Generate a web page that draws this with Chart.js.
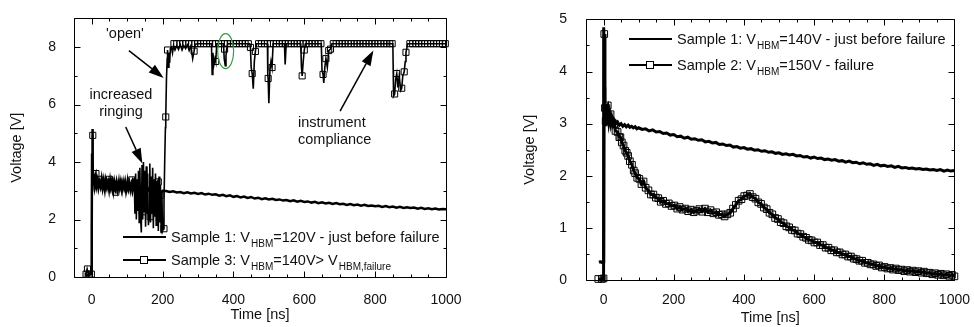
<!DOCTYPE html>
<html lang="en">
<head>
<meta charset="UTF-8">
<title>HBM voltage waveforms</title>
<style>
  body { margin: 0; background: #fff; font-family: "Liberation Sans", Arial, sans-serif; color: #111; }
  .panel { position: absolute; top: 0; width: 487px; height: 327px; }
  #leftPanel { left: 0; }
  #rightPanel { left: 487px; }
  .note { position: absolute; font-size: 14.5px; line-height: 16.5px; white-space: nowrap; }
  .legend { position: absolute; font-size: 14.5px; white-space: nowrap; }
  .legend .row { position: absolute; left: 0; height: 20px; width: 330px; }
  .legend .line { position: absolute; left: 0; width: 43px; top: 9px; height: 2px; background: #000; }
  .legend .box { position: absolute; left: 17px; top: 6px; width: 6px; height: 6px; border: 1px solid #000; background: #fff; }
  .legend .txt { position: absolute; left: 48px; top: 2px; line-height: 16px; }
  .legend sub { font-size: 10px; vertical-align: -5px; line-height: 0; margin-left: 1px; }
</style>
</head>
<body>

<div class="panel" id="leftPanel"><canvas id="leftChart" width="487" height="327"></canvas></div>
<div class="panel" id="rightPanel"><canvas id="rightChart" width="487" height="327"></canvas></div>

<div class="note" style="left:75px; top:25px; width:100px; text-align:center;">'open'</div>
<div class="note" style="left:71px; top:86px; width:100px; text-align:center;">increased<br>ringing</div>
<div class="note" style="left:298px; top:114px;">instrument<br>compliance</div>

<div class="legend" style="left:123px; top:227px;">
  <div class="row" style="top:0;"><div class="line"></div><div class="txt">Sample 1: V<sub>HBM</sub>=120V - just before failure</div></div>
  <div class="row" style="top:23px;"><div class="line"></div><div class="box"></div><div class="txt">Sample 3: V<sub>HBM</sub>=140V&gt; V<sub>HBM,failure</sub></div></div>
</div>

<div class="legend" style="left:629px; top:29px;">
  <div class="row" style="top:0;"><div class="line"></div><div class="txt">Sample 1: V<sub>HBM</sub>=140V - just before failure</div></div>
  <div class="row" style="top:26px;"><div class="line"></div><div class="box"></div><div class="txt">Sample 2: V<sub>HBM</sub>=150V - failure</div></div>
</div>

<script src="https://cdn.jsdelivr.net/npm/chart.js"></script>
<script>
// ---- data: [time ns, voltage V] ----

const xTicks = [0, 200, 400, 600, 800, 1000];
const yTicksLeft = [0, 2, 4, 6, 8];
const yTicksRight = [0, 1, 2, 3, 4, 5];

// left panel
const s1Left = [
  [-20,0.05],[-12,0.06],[-6,0.08],[-2,0.1],[0,1.6],[1,4.3],[2,5.15],[3,4.0],[4,3.3],
  [6,3.45],[8,3.2],[10,3.4],[13,3.15],[16,3.35],[19,3.1],[22,3.3],[25,3.15],[28,3.4],[31,3.1],[34,3.3],
  [37,3.05],[40,3.35],[43,3.15],[46,3.3],[49,3.05],[52,3.35],[55,3.1],[58,3.25],[61,3.0],[64,3.3],[67,3.1],
  [70,3.3],[73,3.05],[76,3.25],[79,3.1],[82,3.3],[85,3.05],[88,3.25],[91,3.1],[94,3.3],[97,3.0],[100,3.2],
  [103,3.05],[106,3.25],[109,3.05],[112,3.2],[115,3.0],[118,3.2],[121,3.05],[124,3.15],[127,3.0],[130,3.15],
  [135,3.0],[140,3.12],[145,2.98],[150,3.08],[155,2.96],[160,3.06],[165,2.97],[170,3.04],[175,2.95],[180,3.03],
  [185,2.96],[190,3.02],[195,2.95],[200,3.0],
  [210,2.99],[220,2.96],[230,2.98],[240,2.94],[250,2.96],[260,2.92],[270,2.95],[280,2.91],[290,2.93],[300,2.89],
  [310,2.92],[320,2.87],[330,2.9],[340,2.86],[350,2.88],[360,2.83],[370,2.86],[380,2.81],[390,2.84],[400,2.79],
  [410,2.82],[420,2.77],[430,2.8],[440,2.75],[450,2.78],[460,2.73],[470,2.76],[480,2.71],[490,2.74],[500,2.7],
  [510,2.72],[520,2.68],[530,2.7],[540,2.66],[550,2.68],[560,2.64],[570,2.67],[580,2.62],[590,2.65],[600,2.61],
  [610,2.63],[620,2.59],[630,2.62],[640,2.57],[650,2.6],[660,2.56],[670,2.58],[680,2.54],[690,2.57],[700,2.53],
  [710,2.55],[720,2.51],[730,2.54],[740,2.5],[750,2.52],[760,2.48],[770,2.51],[780,2.47],[790,2.49],[800,2.46],
  [810,2.48],[820,2.44],[830,2.47],[840,2.43],[850,2.45],[860,2.41],[870,2.44],[880,2.4],[890,2.43],[900,2.4],
  [910,2.42],[920,2.38],[930,2.41],[940,2.37],[950,2.39],[960,2.36],[970,2.38],[980,2.35],[990,2.37],[1000,2.36]
];

const s3Trace = [
  [-20,0.1],[-16,0.12],[-13,0.28],[-10,0.12],[-7,0.1],[-4,0.15],[-1,0.1],[0,0.3],[1,3.0],[2,4.95],[3,4.9],
  [4,3.6],[6,3.2],[9,3.5],[12,3.63],[15,3.2],[18,3.45],[22,3.4],[25,3.15],[28,3.4],[31,3.2],[34,3.45],
  [37,3.15],[40,3.35],[43,3.1],[46,3.4],[50,3.4],[53,3.1],[56,3.35],[59,3.05],[62,3.3],[65,3.0],[68,2.95],
  [71,3.3],[74,3.1],[77,3.4],[80,3.1],[83,3.3],[86,3.0],[89,3.35],[92,3.1],[95,3.3],[98,3.05],[101,3.4],
  [104,3.1],[107,3.3],[110,3.0],[113,3.35],[115,3.4],[118,3.1],
  [120,3.45],[122,2.2],[124,3.6],[126,2.0],[128,3.4],[130,2.3],[132,3.7],[134,1.9],[136,3.8],[138,2.1],
  [140,1.55],[142,3.9],[144,2.0],[146,4.0],[148,2.27],[150,3.7],[152,1.75],[154,3.85],[156,2.2],[158,3.6],
  [160,1.8],[162,2.1],[164,3.95],[166,1.9],[168,3.5],[170,2.2],[172,3.8],[174,1.7],[176,3.4],[178,2.1],
  [180,3.6],[182,1.8],[184,3.3],[186,3.34],[188,1.6],[190,3.5],[192,1.9],[194,3.2],[196,1.55],[198,3.0],
  [200,1.6],[202,1.67],[204,2.6],[206,4.0],[208,5.2],[209,5.57],[211,6.9],[213,7.6],[214,7.9],[216,7.3],
  [218,7.8],[220,7.45],[222,7.95],[225,8.0],[228,7.8],[231,8.05],[235,7.9],[240,8.05],[245,7.92],[250,8.08],
  [255,7.9],[260,8.05],[265,7.95],[270,8.08],[275,7.88],[280,8.05],[285,7.6],[289,7.86],[292,8.1],[300,8.12],
  [338,8.12],[340,7.05],[342,7.8],[345,7.4],[348,7.6],[350,7.5],[353,8.12],
  [372,8.12],[374,7.6],[377,7.35],[379,7.7],[381,7.95],[384,8.12],
  [446,8.12],[448,7.99],[450,7.3],[453,7.08],[456,6.55],[459,7.5],[462,7.85],[465,8.12],
  [496,8.12],[497,7.0],[498,6.91],[500,6.05],[503,7.2],[506,7.5],[509,7.29],[512,8.12],
  [544,8.12],[546,7.4],[549,8.12],
  [590,8.12],[592,7.3],[594,7.0],[597,7.5],[600,7.9],[603,8.12],
  [648,8.12],[650,7.2],[653,7.05],[655,6.75],[658,7.3],[661,7.6],[665,7.3],[669,7.88],[674,7.93],[678,8.12],
  [850,8.12],[852,6.3],[855,6.37],[858,6.9],[861,7.08],[864,6.6],[868,7.0],[872,6.5],[875,6.57],[878,7.0],
  [882,7.14],[885,7.5],[887,7.82],[892,8.12],[1000,8.12]
];

const s3Marks = [
  [-16,0.1],[-12,0.28],[-7,0.1],[-1,0.1],[3,4.93],[12,3.6],[21,3.4],[50,3.4],[68,2.95],[113,3.38],
  [143,2.27],[148,2.45],[165,2.1],[188,3.31],[193,2.84],[204,1.68],[209,5.57],[214,7.9],[289,7.86],
  [350,7.5],[375,7.93],[448,7.99],[453,7.08],[462,7.85],[498,6.91],[509,7.29],[594,7.0],[600,7.9],
  [653,7.05],[661,7.6],[669,7.88],[674,7.93],[855,6.37],[861,7.08],[875,6.57],[882,7.14],[887,7.82]
];

// squares sitting on the compliance limit
const s3Compliance = [
  [232,8.12],[240,8.12],[249,8.12],[257,8.12],[265,8.12],[274,8.12],[282,8.12],[291,8.12],[299,8.12],[307,8.12],
  [316,8.12],[324,8.12],[333,8.12],[341,8.12],[349,8.12],[358,8.12],[366,8.12],[375,8.12],[383,8.12],[391,8.12],
  [400,8.12],[408,8.12],[417,8.12],[425,8.12],[433,8.12],[442,8.12],
  [471,8.12],[479,8.12],[488,8.12],[496,8.12],[504,8.12],[513,8.12],[521,8.12],[530,8.12],[538,8.12],[546,8.12],
  [555,8.12],[563,8.12],[572,8.12],[580,8.12],[588,8.12],[597,8.12],[605,8.12],[614,8.12],[622,8.12],[630,8.12],
  [639,8.12],[647,8.12],
  [682,8.12],[690,8.12],[699,8.12],[707,8.12],[715,8.12],[724,8.12],[732,8.12],[741,8.12],[749,8.12],[757,8.12],
  [766,8.12],[774,8.12],[783,8.12],[791,8.12],[799,8.12],[808,8.12],[816,8.12],[825,8.12],[833,8.12],[841,8.12],
  [848,8.12],
  [898,8.12],[906,8.12],[915,8.12],[923,8.12],[931,8.12],[940,8.12],[948,8.12],[957,8.12],[965,8.12],[973,8.12],
  [982,8.12],[990,8.12],[998,8.12]
];

// right panel
const s1Right = [
  [-13,0.34],[-9,0.35],[-5,0.34],[-1,0.35],[0,2.2],[1,4.85],[2,3.7],[3,3.0],[4,3.35],[6,2.95],[8,3.3],
  [10,3.0],[12,3.2],[15,3.02],[18,3.15],[21,3.0],[24,3.1],[27,3.0],[30,3.07],[35,3.0],[40,3.03],[45,2.97],
  [50,3.0],[55,2.95],[60,2.98],[65,2.94],[70,2.97],[75,2.93],[80,2.95],[85,2.92],[90,2.94],[95,2.9],[100,2.92],
  [110,2.89],[120,2.9],[130,2.86],[140,2.88],[150,2.84],[160,2.85],[170,2.81],[180,2.82],[190,2.78],[200,2.79],
  [210,2.75],[220,2.76],[230,2.72],[240,2.74],[250,2.7],[260,2.71],[270,2.68],[280,2.69],[290,2.65],[300,2.66],
  [310,2.63],[320,2.64],[330,2.6],[340,2.61],[350,2.58],[360,2.59],[370,2.55],[380,2.56],[390,2.53],[400,2.54],
  [410,2.51],[420,2.52],[430,2.49],[440,2.5],[450,2.47],[460,2.48],[470,2.45],[480,2.46],[490,2.43],[500,2.44],
  [510,2.41],[520,2.42],[530,2.4],[540,2.41],[550,2.38],[560,2.39],[570,2.36],[580,2.37],[590,2.34],[600,2.36],
  [610,2.33],[620,2.34],[630,2.31],[640,2.32],[650,2.3],[660,2.31],[670,2.28],[680,2.29],[690,2.26],[700,2.28],
  [710,2.25],[720,2.26],[730,2.23],[740,2.25],[750,2.22],[760,2.23],[770,2.2],[780,2.22],[790,2.19],[800,2.2],
  [810,2.18],[820,2.19],[830,2.16],[840,2.18],[850,2.15],[860,2.16],[870,2.14],[880,2.15],[890,2.13],[900,2.14],
  [910,2.12],[920,2.13],[930,2.11],[940,2.12],[950,2.1],[960,2.12],[970,2.09],[980,2.11],[990,2.09],[1000,2.1]
];

const s2Right = [
  [-15,0.02],[-5,0.02],[0,0.03],[2,4.72],[4,3.3],[6,3.05],[8,3.3],[12,3.35],[16,3.1],[20,3.18],[25,3.02],
  [30,3.0],[34,2.86],[40,2.84],[45,2.74],[48,2.74],[52,2.64],[57,2.58],[62,2.48],[66,2.44],[70,2.38],[75,2.28],
  [81,2.21],[86,2.1],[90,2.05],[96,1.96],[102,1.94],[108,1.84],[114,1.89],[120,1.77],[128,1.72],[135,1.64],
  [142,1.64],[149,1.58],[156,1.57],[163,1.5],[170,1.52],[178,1.46],[186,1.47],[194,1.42],[202,1.43],[210,1.37],
  [217,1.4],[225,1.35],[233,1.37],[241,1.32],[249,1.35],[257,1.3],[265,1.33],[273,1.36],[281,1.31],[289,1.37],
  [297,1.3],[305,1.34],[313,1.28],[321,1.3],[329,1.25],[337,1.26],[345,1.22],[353,1.26],[361,1.29],[369,1.37],
  [377,1.44],[385,1.52],[393,1.55],[401,1.61],[409,1.62],[417,1.65],[425,1.59],[433,1.56],[441,1.49],[449,1.46],
  [457,1.39],[465,1.36],[473,1.29],[481,1.26],[489,1.19],[497,1.17],[505,1.11],[513,1.09],[521,1.03],[529,1.01],
  [537,0.96],[545,0.95],[553,0.89],[561,0.88],[569,0.83],[577,0.81],[585,0.77],[593,0.76],[601,0.72],[609,0.72],
  [617,0.67],[625,0.67],[633,0.62],[641,0.62],[649,0.57],[657,0.57],[665,0.53],[673,0.53],[681,0.49],[689,0.49],
  [697,0.45],[705,0.45],[713,0.41],[721,0.4],[729,0.37],[737,0.37],[745,0.33],[753,0.33],[761,0.3],[769,0.3],
  [777,0.27],[785,0.28],[793,0.24],[801,0.25],[809,0.22],[817,0.23],[825,0.2],[833,0.22],[841,0.19],[849,0.2],
  [857,0.17],[865,0.19],[873,0.16],[881,0.18],[889,0.15],[897,0.17],[905,0.14],[913,0.16],[921,0.13],[929,0.14],
  [937,0.11],[945,0.13],[953,0.1],[961,0.12],[969,0.09],[977,0.11],[985,0.08],[993,0.1],[1000,0.07]
];

const FONT = "'Liberation Sans', Arial, sans-serif";
const toXY = arr => arr.map(p => ({ x: p[0], y: p[1] }));

// frame with inward ticks on all four sides, plus arrows / ellipse
const framePlugin = {
  id: 'frame',
  afterDatasetsDraw(chart, args, opts) {
    const { ctx, chartArea: a, scales: { x, y } } = chart;
    const L = Math.round(a.left) + 0.5, R = Math.round(a.right) + 0.5;
    const T = Math.round(a.top) + 0.5, B = Math.round(a.bottom) + 0.5;
    ctx.save();
    ctx.strokeStyle = '#000';
    ctx.lineWidth = 1;
    ctx.beginPath();
    ctx.rect(L, T, R - L, B - T);
    for (let v = x.min; v <= x.max; v += opts.xMinor) {
      const px = Math.round(x.getPixelForValue(v)) + 0.5;
      const len = xTicks.includes(v) ? 6 : 3;
      ctx.moveTo(px, B); ctx.lineTo(px, B - len);
      ctx.moveTo(px, T); ctx.lineTo(px, T + len);
    }
    for (let v = y.min; v <= y.max + 1e-9; v += opts.yMinor) {
      const py = Math.round(y.getPixelForValue(v)) + 0.5;
      const len = opts.yMajor.includes(v) ? 6 : 3;
      ctx.moveTo(L, py); ctx.lineTo(L + len, py);
      ctx.moveTo(R, py); ctx.lineTo(R - len, py);
    }
    ctx.stroke();

    ctx.fillStyle = '#000';
    ctx.lineWidth = 1.5;
    (opts.arrows || []).forEach(ar => {
      const x0 = x.getPixelForValue(ar.from[0]), y0 = y.getPixelForValue(ar.from[1]);
      const x1 = x.getPixelForValue(ar.to[0]), y1 = y.getPixelForValue(ar.to[1]);
      const ang = Math.atan2(y1 - y0, x1 - x0);
      const head = 15, half = 5;
      const bx = x1 - head * Math.cos(ang), by = y1 - head * Math.sin(ang);
      ctx.beginPath(); ctx.moveTo(x0, y0); ctx.lineTo(bx, by); ctx.stroke();
      ctx.beginPath();
      ctx.moveTo(x1, y1);
      ctx.lineTo(bx + half * Math.sin(ang), by - half * Math.cos(ang));
      ctx.lineTo(bx - half * Math.sin(ang), by + half * Math.cos(ang));
      ctx.closePath(); ctx.fill();
    });

    if (opts.ellipse) {
      const e = opts.ellipse;
      ctx.strokeStyle = '#3a9a44';
      ctx.lineWidth = 1.2;
      ctx.beginPath();
      ctx.ellipse(x.getPixelForValue(e.at[0]), y.getPixelForValue(e.at[1]), e.rx, e.ry, 0, 0, Math.PI * 2);
      ctx.stroke();
    }
    ctx.restore();
  }
};

function lineSet(data, width) {
  return { data: toXY(data), borderColor: '#000', borderWidth: width, pointRadius: 0, tension: 0, clip: false };
}
function markSet(data, showLine, width, r) {
  return {
    data: toXY(data), showLine: showLine, borderColor: '#000', borderWidth: width || 0, tension: 0, clip: false,
    pointStyle: 'rect', pointRadius: r || 4.3, pointBorderWidth: 1, pointBorderColor: '#000',
    pointBackgroundColor: 'rgba(255,255,255,0)'
  };
}

function makeChart(id, datasets, c) {
  return new Chart(document.getElementById(id), {
    type: 'line',
    data: { datasets: datasets },
    plugins: [framePlugin],
    options: {
      responsive: false,
      animation: false,
      devicePixelRatio: 1,
      events: [],
      layout: { padding: c.pad },
      plugins: {
        legend: { display: false },
        tooltip: { enabled: false },
        frame: { xMinor: 50, yMinor: c.yMinor, yMajor: c.yTicks, arrows: c.arrows, ellipse: c.ellipse }
      },
      scales: {
        x: {
          type: 'linear', min: -50, max: 1000,
          afterBuildTicks: s => { s.ticks = xTicks.map(v => ({ value: v })); },
          afterFit: s => { s.height = c.xHeight; },
          grid: { display: false }, border: { display: false },
          ticks: { font: { family: FONT, size: 14 }, color: '#111', padding: c.xPad, maxRotation: 0, autoSkip: false,
                   callback: v => String(v) },
          title: { display: true, text: 'Time [ns]', color: '#111', font: { family: FONT, size: 14.5 },
                   padding: { top: 0, bottom: c.xTitlePad } }
        },
        y: {
          type: 'linear', min: 0, max: c.yMax,
          afterBuildTicks: s => { s.ticks = c.yTicks.map(v => ({ value: v })); },
          afterFit: s => { s.width = c.yWidth; },
          grid: { display: false }, border: { display: false },
          ticks: { font: { family: FONT, size: 14 }, color: '#111', padding: c.yPad, callback: v => String(v) },
          title: { display: true, text: 'Voltage [V]', color: '#111', font: { family: FONT, size: 14.5 },
                   padding: { top: c.yTitlePad, bottom: 0 } }
        }
      }
    }
  });
}

makeChart('leftChart', [
  lineSet(s1Left, 2.5),
  lineSet(s3Trace, 1.6),
  markSet(s3Marks, false),
  markSet(s3Compliance, false)
], {
  pad: { left: 0, right: 41, top: 12, bottom: 0 },
  xHeight: 50, yWidth: 74, yMax: 9, yTicks: yTicksLeft, yMinor: 1,
  xPad: 6.5, yPad: 10, xTitlePad: 3.3, yTitlePad: 8.3,
  arrows: [
    { from: [105, 7.88], to: [203, 6.93] },
    { from: [96, 5.22], to: [143, 3.95] },
    { from: [701, 5.77], to: [795, 7.88] }
  ],
  ellipse: { at: [378, 7.86], rx: 8, ry: 17.5 }
});

makeChart('rightChart', [
  lineSet(s1Right, 3),
  markSet(s2Right, true, 3, 4.7)
], {
  pad: { left: 0, right: 16, top: 15, bottom: 0 },
  xHeight: 47, yWidth: 99, yMax: 5, yTicks: yTicksRight, yMinor: 0.5,
  xPad: 4, yPad: 11, xTitlePad: 0.3, yTitlePad: 34.3
});
</script>
</body>
</html>
